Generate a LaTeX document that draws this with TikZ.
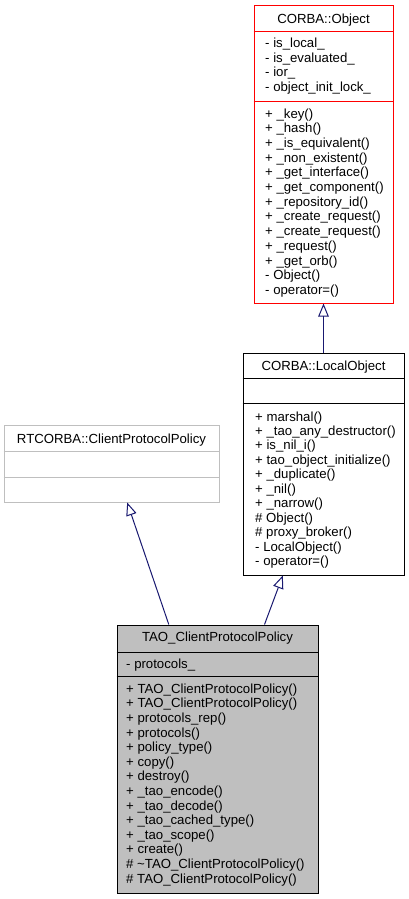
\documentclass[tikz,border=0pt]{standalone}
\usepackage{fontspec}
\setmainfont{Liberation Sans}
\usetikzlibrary{arrows.meta}
\definecolor{edgeblue}{HTML}{191970}
\definecolor{taofill}{HTML}{BFBFBF}
\definecolor{rtgray}{HTML}{BFBFBF}
\definecolor{objred}{HTML}{FF0000}
\begin{document}
\begin{tikzpicture}[x=1pt,y=-1pt,
  classbox/.style={draw, line width=1pt, inner sep=0pt, rectangle},
  txt/.style={inner sep=0pt, anchor=base west, font=\fontsize{13.2}{14.6}\selectfont},
  ttl/.style={inner sep=0pt, anchor=base, font=\fontsize{13.2}{14.6}\selectfont},
  inh/.style={draw=edgeblue, line width=1pt, -{Triangle[open, length=13pt, width=10.5pt]}}]
\useasboundingbox (0,0) rectangle (409,899);

% CORBA::Object
\node[classbox, draw=objred, minimum width=139pt, minimum height=297pt] (obj) at (323.5,154.5) {};
\draw[objred, line width=1pt] (obj.west |- 0,32) -- (obj.east |- 0,32);
\draw[objred, line width=1pt] (obj.west |- 0,101) -- (obj.east |- 0,101);
\node[ttl] (objt) at (323.5,23.5) {CORBA::Object};
\foreach \s [count=\i from 0] in {- is\_local\_, - is\_evaluated\_, - ior\_, - object\_init\_lock\_}
  \node[txt] (obja\i) at (265,47.5+14.7*\i) {\s};
\foreach \s [count=\i from 0] in {+ \_key(), + \_hash(), + \_is\_equivalent(), + \_non\_existent(), + \_get\_interface(), + \_get\_component(), + \_repository\_id(), + \_create\_request(), + \_create\_request(), + \_request(), + \_get\_orb(), - Object(), - operator=()}
  \node[txt] (objm\i) at (265,118.3+14.67*\i) {\s};

% CORBA::LocalObject
\node[classbox, minimum width=161pt, minimum height=222pt] (lo) at (323.5,464) {};
\draw[line width=1pt] (lo.west |- 0,378) -- (lo.east |- 0,378);
\draw[line width=1pt] (lo.west |- 0,403) -- (lo.east |- 0,403);
\node[ttl] (lot) at (323.5,370) {CORBA::LocalObject};
\foreach \s [count=\i from 0] in {+ marshal(), + \_tao\_any\_destructor(), + is\_nil\_i(), + tao\_object\_initialize(), + \_duplicate(), + \_nil(), + \_narrow(), \# Object(), \# proxy\_broker(), - LocalObject(), - operator=()}
  \node[txt] (lom\i) at (255,421+14.47*\i) {\s};

% RTCORBA::ClientProtocolPolicy
\node[classbox, draw=rtgray, minimum width=215pt, minimum height=77pt] (rt) at (111.5,463.5) {};
\draw[rtgray, line width=1pt] (rt.west |- 0,451) -- (rt.east |- 0,451);
\draw[rtgray, line width=1pt] (rt.west |- 0,477) -- (rt.east |- 0,477);
\node[ttl] (rtt) at (111.5,443.3) {RTCORBA::ClientProtocolPolicy};

% TAO_ClientProtocolPolicy
\node[classbox, fill=taofill, minimum width=201pt, minimum height=268pt] (tao) at (217.5,759) {};
\draw[line width=1pt] (tao.west |- 0,652) -- (tao.east |- 0,652);
\draw[line width=1pt] (tao.west |- 0,676) -- (tao.east |- 0,676);
\node[ttl] (taot) at (217.5,641.7) {TAO\_ClientProtocolPolicy};
\node[txt] (taoa0) at (126,668.3) {- protocols\_};
\foreach \s [count=\i from 0] in {+ TAO\_ClientProtocolPolicy(), + TAO\_ClientProtocolPolicy(), + protocols\_rep(), + protocols(), + policy\_type(), + copy(), + destroy(), + \_tao\_encode(), + \_tao\_decode(), + \_tao\_cached\_type(), + \_tao\_scope(), + create(), \# \textasciitilde TAO\_ClientProtocolPolicy(), \# TAO\_ClientProtocolPolicy()}
  \node[txt] (taom\i) at (126,693.3+14.6*\i) {\s};

% inheritance
\draw[inh] (lo.north) -- (obj.south);
\draw[inh] ([xshift=52.3pt]tao.north west) -- ([xshift=123.7pt]rt.south west);
\draw[inh] ([xshift=148pt]tao.north west) -- ([xshift=40.3pt]lo.south west);
\end{tikzpicture}
\end{document}
